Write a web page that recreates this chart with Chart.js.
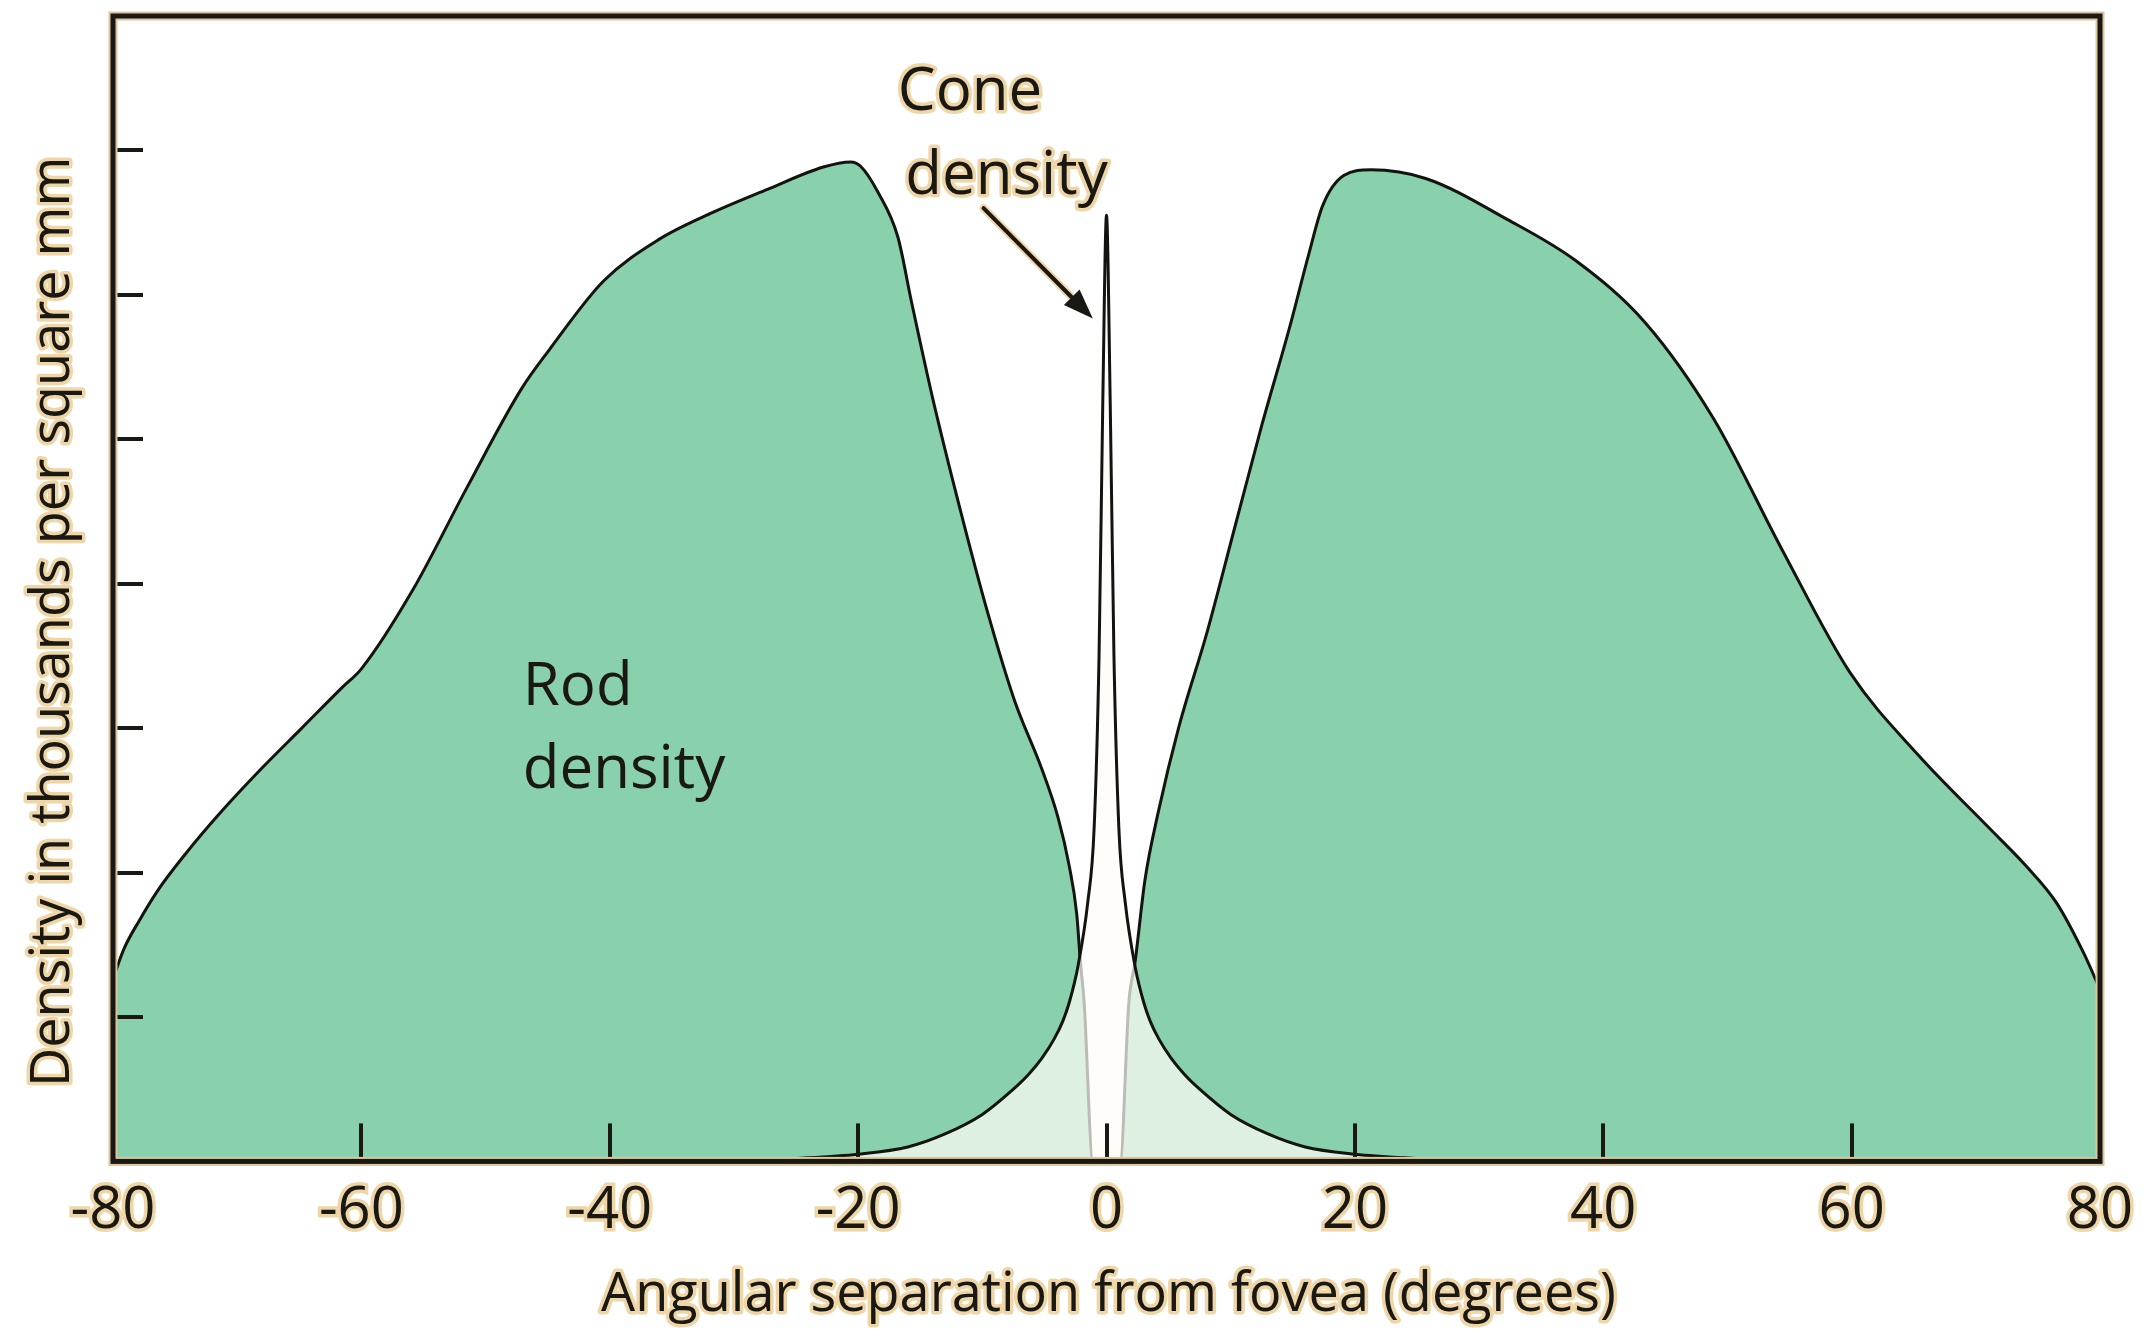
<!DOCTYPE html>
<html>
<head>
<meta charset="utf-8">
<script src="https://cdn.jsdelivr.net/npm/chart.js@4.4.1/dist/chart.umd.min.js"></script>
<style>
  html, body { margin: 0; padding: 0; background: #fff; }
  canvas { display: block; }
</style>
</head>
<body>
<canvas id="graficoDensidade" width="2149" height="1336"></canvas>
<script>
// rod density (thousands per square mm)
const rodAngles = [-80, -79.1, -77.9, -76.4, -74.2, -71.4, -68.1, -64.8, -61.5, -60, -55.9, -51.5, -47.1, -44.9,
  -40.5, -36.1, -31.7, -27.3, -22.8, -20.6, -19.8, -18.4, -16.8, -15.7, -14, -11.8, -9.6, -7.4, -5.2, -3.9,
  -3, -2.4, -2.1, -1.8, -1.1, 0, 1.1, 1.8, 2.3, 3.1, 4.2, 5.8, 8.1, 10.3, 12.5, 14.7, 16.3, 17.4, 19.1, 21.3,
  25.7, 32.3, 37.8, 43.4, 48.9, 54.4, 59.9, 65.4, 71, 74, 76.5, 78.7, 80]
const rodDensity = [25.3, 29.5, 33.3, 37.5, 42.5, 48.2, 54.3, 60, 65.7, 68.2, 79, 93.3, 107, 112.3,
  121.9, 127.6, 131.4, 134.6, 137.7, 138.4, 137.8, 134.2, 128, 119, 105.7, 90.4, 76.2, 63.8, 54.3, 47.6,
  40.9, 34.3, 27.6, 22, 0, 0, 0, 22, 27.6, 39, 48.6, 60, 73.3, 87.6, 101.9, 115.2, 125.7, 132.3, 136.5, 137.3,
  136.1, 130.4, 124.7, 116.1, 102.8, 84.7, 67.6, 56.2, 46.3, 41, 35.8, 28.8, 23.8]

// cone density
const coneAngles = [-80, -30, -25, -20, -16, -13, -10, -7.5, -6.3, -5.2, -4.2, -3.5, -3, -2.3, -1.5, -1, -0.6, -0.3, 0,
  0.3, 0.6, 1, 1.5, 2.3, 3, 3.5, 4.2, 5.2, 6.3, 7.5, 10, 13, 16, 20, 25, 30, 80]
const coneDensity = [0, 0, 0.4, 1, 2, 3.8, 6.5, 10, 12, 14.3, 17, 19.5, 22, 27, 36, 46, 70, 105, 131,
  105, 70, 46, 36, 27, 22, 19.5, 17, 14.3, 12, 10, 6.5, 3.8, 2, 1, 0.4, 0, 0]

const xTickValues = [-80, -60, -40, -20, 0, 20, 40, 60, 80]
const yTickValues = [20, 40, 60, 80, 100, 120, 140]

const FONTE = '"Open Sans", "DejaVu Sans", sans-serif'
const TINTA = '#1a1812'
const HALO = '#efd6a8'

function pontos(xs, ys) {
  var lista = []
  for (var i = 0; i < xs.length; i++) {
    lista.push({ x: xs[i], y: ys[i] })
  }
  return lista
}

function textoComHalo(ctx, txt, x, y, halo) {
  if (halo) {
    ctx.lineWidth = 7
    ctx.lineJoin = 'round'
    ctx.strokeStyle = HALO
    ctx.strokeText(txt, x, y)
  }
  ctx.fillStyle = TINTA
  ctx.fillText(txt, x, y)
}

// frame, inner tick marks, titles and the labels inside the plot
const decoracao = {
  id: 'decoracao',
  afterDatasetsDraw(chart) {
    const ctx = chart.ctx
    const area = chart.chartArea
    const sx = chart.scales.x
    const sy = chart.scales.y
    ctx.save()

    ctx.strokeStyle = TINTA
    ctx.lineWidth = 4
    for (var i = 1; i < xTickValues.length - 1; i++) {
      var px = Math.round(sx.getPixelForValue(xTickValues[i]))
      ctx.beginPath()
      ctx.moveTo(px, area.bottom)
      ctx.lineTo(px, area.bottom - 38)
      ctx.stroke()
    }
    for (var j = 0; j < yTickValues.length; j++) {
      var py = Math.round(sy.getPixelForValue(yTickValues[j]))
      ctx.beginPath()
      ctx.moveTo(area.left, py)
      ctx.lineTo(area.left + 30, py)
      ctx.stroke()
    }

    ctx.lineWidth = 9
    ctx.strokeStyle = '#dcc6a0'
    ctx.strokeRect(area.left, area.top, area.right - area.left, area.bottom - area.top)
    ctx.lineWidth = 5
    ctx.strokeStyle = TINTA
    ctx.strokeRect(area.left, area.top, area.right - area.left, area.bottom - area.top)

    // arrow pointing at the cone peak
    var x1 = sx.getPixelForValue(-9.9), y1 = sy.getPixelForValue(132)
    var x2 = sx.getPixelForValue(-1.1), y2 = sy.getPixelForValue(116.7)
    var ang = Math.atan2(y2 - y1, x2 - x1)
    var cab = 30
    var bx = x2 - cab * Math.cos(ang), by = y2 - cab * Math.sin(ang)
    ctx.lineCap = 'round'
    ctx.strokeStyle = HALO
    ctx.lineWidth = 8
    ctx.beginPath(); ctx.moveTo(x1, y1); ctx.lineTo(bx, by); ctx.stroke()
    ctx.strokeStyle = TINTA
    ctx.lineWidth = 4
    ctx.beginPath(); ctx.moveTo(x1, y1); ctx.lineTo(bx, by); ctx.stroke()
    ctx.fillStyle = TINTA
    ctx.beginPath()
    ctx.moveTo(x2, y2)
    ctx.lineTo(bx + 11 * Math.sin(ang), by - 11 * Math.cos(ang))
    ctx.lineTo(bx - 11 * Math.sin(ang), by + 11 * Math.cos(ang))
    ctx.closePath()
    ctx.fill()

    ctx.font = '60px ' + FONTE
    ctx.textAlign = 'left'
    ctx.textBaseline = 'alphabetic'
    textoComHalo(ctx, 'Cone', sx.getPixelForValue(-16.8), sy.getPixelForValue(145.6), true)
    textoComHalo(ctx, 'density', sx.getPixelForValue(-16.2), sy.getPixelForValue(134), true)
    textoComHalo(ctx, 'Rod', sx.getPixelForValue(-47), sy.getPixelForValue(63.2), false)
    textoComHalo(ctx, 'density', sx.getPixelForValue(-47), sy.getPixelForValue(51.7), false)

    ctx.font = '54px ' + FONTE
    ctx.textAlign = 'center'
    textoComHalo(ctx, 'Angular separation from fovea (degrees)', (area.left + area.right) / 2 + 2, area.bottom + 150, true)

    ctx.translate(area.left - 44, (area.top + area.bottom) / 2 + 33)
    ctx.rotate(-Math.PI / 2)
    textoComHalo(ctx, 'Density in thousands per square mm', 0, 0, true)

    ctx.restore()
  }
}

const grafico = new Chart(document.getElementById('graficoDensidade'), {
  type: 'line',
  data: {
    datasets: [
      {
        label: 'Cone density',
        data: pontos(coneAngles, coneDensity),
        fill: 'origin',
        backgroundColor: 'rgba(255,252,247,0.72)',
        borderColor: '#14140f',
        borderWidth: 3,
        pointRadius: 0,
        cubicInterpolationMode: 'monotone',
        order: 1
      },
      {
        label: 'Rod density',
        data: pontos(rodAngles, rodDensity),
        fill: 'origin',
        backgroundColor: '#89d1ad',
        borderColor: '#14140f',
        borderWidth: 3,
        pointRadius: 0,
        cubicInterpolationMode: 'monotone',
        order: 2
      }
    ]
  },
  options: {
    responsive: false,
    animation: false,
    devicePixelRatio: 1,
    layout: {
      padding: { left: 113, right: 49, top: 16, bottom: 83 }
    },
    plugins: {
      legend: { display: false },
      tooltip: { enabled: false }
    },
    scales: {
      x: {
        type: 'linear',
        min: -80,
        max: 80,
        afterBuildTicks: function (axis) {
          axis.ticks = xTickValues.map(function (v) { return { value: v } })
        },
        ticks: {
          font: { family: FONTE, size: 58 },
          color: TINTA,
          textStrokeColor: HALO,
          textStrokeWidth: 7,
          padding: 7,
          maxRotation: 0,
          autoSkip: false,
          callback: function (v) { return String(v) }
        },
        grid: { display: false },
        border: { display: false }
      },
      y: {
        display: false,
        min: 0,
        max: 158.6
      }
    }
  },
  plugins: [decoracao]
})
</script>
</body>
</html>
